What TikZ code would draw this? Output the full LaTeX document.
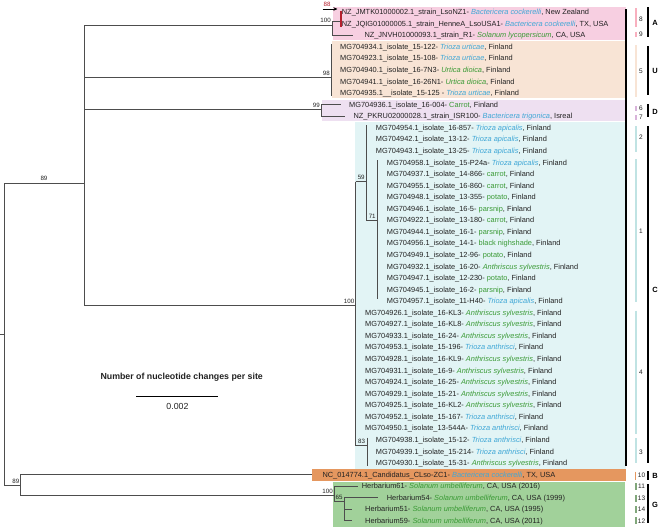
\documentclass[tikz,border=0pt]{standalone}
\usepackage{fontspec}
\setmainfont{Liberation Sans}
\usetikzlibrary{arrows.meta}
\definecolor{spblue}{HTML}{3FA7D6}
\definecolor{spgreen}{HTML}{3A9A35}
\definecolor{txt}{HTML}{222222}
\definecolor{brc}{HTML}{4D4D4D}
\definecolor{boxA}{HTML}{F7CFE1}
\definecolor{boxU}{HTML}{F8E4D5}
\definecolor{boxD}{HTML}{EEE0F1}
\definecolor{boxC}{HTML}{E2F4F5}
\definecolor{boxB}{HTML}{E5975F}
\definecolor{boxG}{HTML}{A1D19A}
\definecolor{redbar}{HTML}{B5202E}
\newcommand\spB[1]{\textcolor{spblue}{\itshape #1}}
\newcommand\spG[1]{\textcolor{spgreen}{\itshape #1}}
\newcommand\hoG[1]{\textcolor{spgreen}{#1}}
\newcommand\lf[4]{\node[leaf] (#1) at (#2,{12+11.56*#3}) {#4};}
\begin{document}
\begin{tikzpicture}[x=1pt,y=-1pt,
  leaf/.style={anchor=west,inner sep=0pt,text height=5.5pt,text depth=0pt,font=\fontsize{7.4}{8}\selectfont,text=txt},
  br/.style={draw=brc,line width=0.8pt},
  bsv/.style={inner sep=0pt,font=\fontsize{6.2}{7}\selectfont,text=txt},
  hbar/.style={line width=1.4pt},
  cbar/.style={draw=black,line width=1.8pt},
  hnum/.style={inner sep=0pt,font=\fontsize{6.5}{7}\selectfont,text=txt},
  clet/.style={inner sep=0pt,font=\fontsize{7.5}{8}\selectfont\bfseries,text=black}]
\useasboundingbox (0,0) rectangle (658,528);
% boxes
\fill[boxA] (333,7) rectangle (626,39.5);
\fill[boxU] (331.7,40.5) rectangle (626,97.5);
\fill[boxD] (321.7,99.5) rectangle (626,121);
\fill[boxC] (355,122) rectangle (626,469);
\fill[boxB] (311.7,469.3) rectangle (626,480.7);
\fill[boxG] (333.3,481.7) rectangle (624.5,526.7);
\draw[black,line width=1.1pt] (626,9) -- (626,466);
% leaves
\lf{l0}{341.7}{0}{NZ\_JMTK01000002.1\_strain\_LsoNZ1- \spB{Bactericera cockerelli}, New Zealand}
\lf{l1}{341.7}{1}{NZ\_JQIG01000005.1\_strain\_HenneA\_LsoUSA1- \spB{Bactericera cockerelli}, TX, USA}
\lf{l2}{364.3}{2}{NZ\_JNVH01000093.1\_strain\_R1- \spG{Solanum lycopersicum}, CA, USA}
\lf{l3}{340}{3}{MG704934.1\_isolate\_15-122- \spB{Trioza urticae}, Finland}
\lf{l4}{340}{4}{MG704923.1\_isolate\_15-108- \spB{Trioza urticae}, Finland}
\lf{l5}{340}{5}{MG704940.1\_isolate\_16-7N3- \spG{Urtica dioica}, Finland}
\lf{l6}{340}{6}{MG704941.1\_isolate\_16-26N1- \spG{Urtica dioica}, Finland}
\lf{l7}{340}{7}{MG704935.1\_\_isolate\_15-125 - \spB{Trioza urticae}, Finland}
\lf{l8}{349}{8}{MG704936.1\_isolate\_16-004- \hoG{Carrot}, Finland}
\lf{l9}{353.3}{9}{NZ\_PKRU02000028.1\_strain\_ISR100- \spB{Bactericera trigonica}, Isreal}
\lf{l10}{375.7}{10}{MG704954.1\_isolate\_16-857- \spB{Trioza apicalis}, Finland}
\lf{l11}{375.7}{11}{MG704942.1\_isolate\_13-12- \spB{Trioza apicalis}, Finland}
\lf{l12}{375.7}{12}{MG704943.1\_isolate\_13-25- \spB{Trioza apicalis}, Finland}
\lf{l13}{386.7}{13}{MG704958.1\_isolate\_15-P24a- \spB{Trioza apicalis}, Finland}
\lf{l14}{386.7}{14}{MG704937.1\_isolate\_14-866- \hoG{carrot}, Finland}
\lf{l15}{386.7}{15}{MG704955.1\_isolate\_16-860- \hoG{carrot}, Finland}
\lf{l16}{386.7}{16}{MG704948.1\_isolate\_13-355- \hoG{potato}, Finland}
\lf{l17}{386.7}{17}{MG704946.1\_isolate\_16-5- \hoG{parsnip}, Finland}
\lf{l18}{386.7}{18}{MG704922.1\_isolate\_13-180- \hoG{carrot}, Finland}
\lf{l19}{386.7}{19}{MG704944.1\_isolate\_16-1- \hoG{parsnip}, Finland}
\lf{l20}{386.7}{20}{MG704956.1\_isolate\_14-1- \hoG{black nighshade}, Finland}
\lf{l21}{386.7}{21}{MG704949.1\_isolate\_12-96- \hoG{potato}, Finland}
\lf{l22}{386.7}{22}{MG704932.1\_isolate\_16-20- \spG{Anthriscus sylvestris}, Finland}
\lf{l23}{386.7}{23}{MG704947.1\_isolate\_12-230- \hoG{potato}, Finland}
\lf{l24}{386.7}{24}{MG704945.1\_isolate\_16-2- \hoG{parsnip}, Finland}
\lf{l25}{386.7}{25}{MG704957.1\_isolate\_11-H40- \spB{Trioza apicalis}, Finland}
\lf{l26}{365}{26}{MG704926.1\_isolate\_16-KL3- \spG{Anthriscus sylvestris}, Finland}
\lf{l27}{365}{27}{MG704927.1\_isolate\_16-KL8- \spG{Anthriscus sylvestris}, Finland}
\lf{l28}{365}{28}{MG704933.1\_isolate\_16-24- \spG{Anthriscus sylvestris}, Finland}
\lf{l29}{365}{29}{MG704953.1\_isolate\_15-196- \spB{Trioza anthrisci}, Finland}
\lf{l30}{365}{30}{MG704928.1\_isolate\_16-KL9- \spG{Anthriscus sylvestris}, Finland}
\lf{l31}{365}{31}{MG704931.1\_isolate\_16-9- \spG{Anthriscus sylvestris}, Finland}
\lf{l32}{365}{32}{MG704924.1\_isolate\_16-25- \spG{Anthriscus sylvestris}, Finland}
\lf{l33}{365}{33}{MG704929.1\_isolate\_15-21- \spG{Anthriscus sylvestris}, Finland}
\lf{l34}{365}{34}{MG704925.1\_isolate\_16-KL2- \spG{Anthriscus sylvestris}, Finland}
\lf{l35}{365}{35}{MG704952.1\_isolate\_15-167- \spB{Trioza anthrisci}, Finland}
\lf{l36}{365}{36}{MG704950.1\_isolate\_13-544A- \spB{Trioza anthrisci}, Finland}
\lf{l37}{375.7}{37}{MG704938.1\_isolate\_15-12- \spB{Trioza anthrisci}, Finland}
\lf{l38}{375.7}{38}{MG704939.1\_isolate\_15-214- \spB{Trioza anthrisci}, Finland}
\lf{l39}{375.7}{39}{MG704930.1\_isolate\_15-31- \spG{Anthriscus sylvestris}, Finland}
\lf{l40}{322.3}{40}{NC\_014774.1\_Candidatus\_CLso-ZC1- \spB{Bactericera cockerelli}, TX, USA}
\lf{l41}{361.7}{41}{Herbarium61- \spG{Solanum umbelliferum}, CA, USA (2016)}
\lf{l42}{386.7}{42}{Herbarium54- \spG{Solanum umbelliferum}, CA, USA (1999)}
\lf{l43}{365}{43}{Herbarium51- \spG{Solanum umbelliferum}, CA, USA (1995)}
\lf{l44}{365}{44}{Herbarium59- \spG{Solanum umbelliferum}, CA, USA (2011)}
% internal nodes
\coordinate (stub) at (0,334);
\coordinate (root) at (4.3,334);
\coordinate (nT) at (84.3,183);
\coordinate (nBG) at (20.7,485);
\coordinate (nA) at (332,25);
\coordinate (nU) at (331,77.7);
\coordinate (nD) at (321,109.7);
\coordinate (nC) at (355.7,305.7);
\coordinate (n59) at (366.7,181.7);
\coordinate (n71) at (377.7,220);
\coordinate (n83) at (367.3,445.7);
\coordinate (nG) at (334,495.7);
\coordinate (n65) at (344,501);
% branches
\draw[br] (stub) -- (root);
\draw[br] (4.3,183) -- (4.3,485);
\draw[br] (4.3,183) -- (nT);
\draw[br] (84.3,25) -- (84.3,305.7);
\draw[br] (84.3,25) -- (nA);
\draw[br] (332,21) -- (332,35.12) -- (l2.west -| 353,0) ;
\draw[br] (332,21) -- (340.7,21);
\draw[redbar,line width=2.4pt] (340.7,10.7) -- (340.7,26.5);
\draw[-{Stealth[length=4pt,width=3.5pt]},black,line width=0.9pt] (322.7,9) -- (337.5,9);
\node[bsv,text=redbar,anchor=south] (s88) at (327,7) {88};
\draw[br] (84.3,77.7) -- (nU);
\draw[br] (331,44) -- (331,96);
\draw[br] (84.3,109.7) -- (nD);
\draw[br] (321,104.48) -- (321,116.04);
\draw[br] (321,104.48) -- (340.7,104.48);
\draw[br] (321,116.04) -- (345,116.04);
\draw[br] (84.3,305.7) -- (nC);
\draw[br] (355.7,181.7) -- (355.7,445.7);
\draw[br] (355.7,181.7) -- (n59);
\draw[br] (366.7,125) -- (366.7,220) -- (n71);
\draw[br] (377.7,160) -- (377.7,299);
\draw[br] (355.7,445.7) -- (n83);
\draw[br] (367.3,437.5) -- (367.3,465.5);
\draw[br] (root |- nBG) -- (nBG);
\draw[br] (20.7,474.4) -- (20.7,495.7);
\draw[br] (20.7,474.4) -- (312,474.4);
\draw[br] (20.7,495.7) -- (nG);
\draw[br] (334,485.96) -- (334,501);
\draw[br] (334,485.96) -- (358.3,485.96);
\draw[br] (334,501) -- (n65);
\draw[br] (344,497.52) -- (344,520.64);
\draw[br] (344,497.52) -- (378.3,497.52);
\draw[br] (344,509.08) -- (351.7,509.08);
\draw[br] (344,520.64) -- (351.7,520.64);
% support values
\node[bsv,anchor=south] (s89a) at (44,181) {89};
\node[bsv,anchor=south east] (s100a) at (331,23) {100};
\node[bsv,anchor=south east] (s98) at (330,75.7) {98};
\node[bsv,anchor=south east] (s99) at (320,108) {99};
\node[bsv,anchor=south east] (s100c) at (354.5,303.7) {100};
\node[bsv,anchor=south] (s59) at (361.2,180) {59};
\node[bsv,anchor=south] (s71) at (372.2,218.3) {71};
\node[bsv,anchor=south] (s83) at (361.5,444) {83};
\node[bsv,anchor=south east] (s89b) at (19.5,483.5) {89};
\node[bsv,anchor=south east] (s100g) at (333,494) {100};
\node[bsv,anchor=south] (s65) at (339,499.5) {65};
% scale bar
\node[inner sep=0pt,font=\fontsize{8.8}{10}\selectfont\bfseries,text=txt] (sct) at (181.7,377.3) {Number of nucleotide changes per site};
\coordinate (sc1) at (136,396);
\coordinate (sc2) at (217.7,396);
\draw[black,line width=0.8pt] (sc1) -- (sc2);
\node[inner sep=0pt,font=\fontsize{8.8}{10}\selectfont,text=txt] (scv) at (177.5,406.5) {0.002};
% haplotype bars
\draw[hbar,draw=boxA!85!red] (636,8.3) -- (636,26.7);
\draw[hbar,draw=boxA!85!red] (636,31.7) -- (636,36.7);
\draw[hbar,draw=boxU] (636,45) -- (636,97);
\draw[hbar,draw=boxD!80!violet] (636,106) -- (636,111);
\draw[hbar,draw=boxD!80!violet] (636,115) -- (636,120);
\draw[hbar,draw=boxC!85!teal] (636,126) -- (636,151.7);
\draw[hbar,draw=boxC!85!teal] (636,159.3) -- (636,302.3);
\draw[hbar,draw=boxC!85!teal] (636,310.7) -- (636,434);
\draw[hbar,draw=boxC!85!teal] (636,438.3) -- (636,463.3);
\draw[hbar,draw=boxB] (635.5,471.5) -- (635.5,479.5);
\foreach \yy in {486.7,498.3,509.6,520.9} \draw[hbar,draw=boxG!80!black] (636,\yy-3.5) -- (636,\yy+3.5);
\node[hnum] (h8) at (641,19) {8};
\node[hnum] (h9) at (641,34) {9};
\node[hnum] (h5) at (641,71) {5};
\node[hnum] (h6) at (641,108.3) {6};
\node[hnum] (h7) at (641,117.3) {7};
\node[hnum] (h2) at (641,137.7) {2};
\node[hnum] (h1) at (641,231) {1};
\node[hnum] (h4) at (641,372.7) {4};
\node[hnum] (h3) at (641,452.3) {3};
\node[hnum] (h10) at (641.5,475.7) {10};
\node[hnum] (h11) at (641.5,486.7) {11};
\node[hnum] (h13) at (641.5,498.3) {13};
\node[hnum] (h14) at (641.5,509.6) {14};
\node[hnum] (h12) at (641.5,520.9) {12};
% clade bars
\draw[cbar] (647.8,7.3) -- (647.8,37.3);
\draw[cbar] (647.8,46) -- (647.8,95);
\draw[cbar] (647.8,104) -- (647.8,117);
\draw[cbar] (647.8,126) -- (647.8,463.3);
\draw[cbar] (647.8,471) -- (647.8,479.5);
\draw[cbar] (647.8,484) -- (647.8,523);
\node[clet] (cA) at (655,23.3) {A};
\node[clet] (cU) at (655,71) {U};
\node[clet] (cD) at (655,111.7) {D};
\node[clet] (cC) at (655,290) {C};
\node[clet] (cB) at (655,475.7) {B};
\node[clet] (cG) at (655,505) {G};
\end{tikzpicture}
\end{document}
